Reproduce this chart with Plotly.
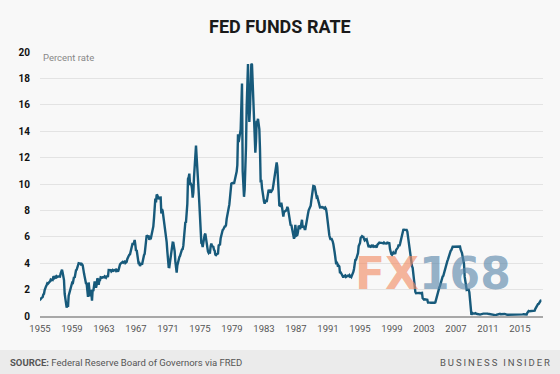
import plotly.graph_objects as go

# Effective federal funds rate, monthly, starting January 1955 (percent)
start_year = 1955
rates_1950s = [
    1.39, 1.29, 1.35, 1.43, 1.43, 1.64, 1.68, 1.96, 2.18, 2.24, 2.35, 2.48,
    2.45, 2.50, 2.50, 2.62, 2.75, 2.71, 2.75, 2.73, 2.95, 2.96, 2.88, 2.94,
    2.84, 3.00, 2.96, 3.00, 3.00, 3.00, 2.99, 3.24, 3.47, 3.50, 3.28, 2.98,
    2.72, 1.67, 1.20, 1.26, 0.63, 0.93, 0.68, 1.53, 1.76, 1.80, 2.27, 2.42,
    2.48, 2.43, 2.80, 2.96, 2.90, 3.39, 3.47, 3.50, 3.76, 3.98, 4.00, 3.99,
]
rates_1960s = [
    3.99, 3.97, 3.84, 3.92, 3.85, 3.32, 3.23, 2.98, 2.60, 2.47, 2.44, 1.98,
    1.45, 2.54, 2.02, 1.49, 1.98, 1.73, 1.17, 2.00, 1.88, 2.26, 2.62, 2.33,
    2.15, 2.37, 2.85, 2.78, 2.36, 2.68, 2.71, 2.93, 2.90, 2.90, 2.94, 2.93,
    2.92, 3.00, 2.98, 2.90, 3.00, 2.99, 3.02, 3.49, 3.48, 3.50, 3.48, 3.38,
    3.48, 3.48, 3.43, 3.47, 3.50, 3.50, 3.42, 3.50, 3.45, 3.36, 3.52, 3.85,
    3.90, 3.98, 4.04, 4.09, 4.10, 4.04, 4.09, 4.12, 4.01, 4.08, 4.10, 4.32,
    4.42, 4.60, 4.65, 4.67, 4.90, 5.17, 5.30, 5.53, 5.40, 5.53, 5.76, 5.40,
    4.94, 5.00, 4.53, 4.05, 3.94, 3.98, 3.79, 3.90, 3.99, 3.88, 4.13, 4.51,
    4.61, 4.71, 5.05, 5.76, 6.11, 6.07, 6.02, 6.03, 5.78, 5.91, 5.82, 6.02,
    6.30, 6.64, 6.79, 7.41, 8.67, 8.90, 8.61, 9.19, 9.15, 9.00, 8.85, 8.97,
]
rates_1970s = [
    8.98, 8.98, 7.76, 8.10, 7.95, 7.61, 7.21, 6.61, 6.29, 6.20, 5.60, 4.90,
    4.14, 3.72, 3.71, 4.16, 4.63, 4.91, 5.31, 5.56, 5.55, 5.20, 4.91, 4.14,
    3.50, 3.29, 3.83, 4.17, 4.27, 4.46, 4.55, 4.80, 4.87, 5.04, 5.06, 5.33,
    5.94, 6.58, 7.09, 7.12, 7.84, 8.49, 10.40, 10.50, 10.78, 10.01, 10.03, 9.95,
    9.65, 8.97, 9.35, 10.51, 11.31, 11.93, 12.92, 12.01, 11.34, 10.06, 9.45, 8.53,
    7.13, 6.24, 5.54, 5.49, 5.22, 5.55, 6.10, 6.14, 6.24, 5.82, 5.22, 5.20,
    4.87, 4.77, 4.84, 4.82, 5.29, 5.48, 5.31, 5.29, 5.25, 5.02, 4.95, 4.65,
    4.61, 4.68, 4.69, 4.73, 5.35, 5.39, 5.42, 5.90, 6.14, 6.47, 6.51, 6.56,
    6.70, 6.78, 6.79, 6.89, 7.36, 7.60, 7.81, 8.04, 8.45, 8.96, 9.76, 10.03,
    10.07, 10.06, 10.09, 10.01, 10.24, 10.29, 10.47, 10.94, 11.43, 13.77, 13.18, 13.78,
]
rates_1980s = [
    13.82, 14.13, 17.19, 17.61, 10.98, 9.47, 9.03, 9.61, 10.87, 12.81, 15.85, 18.90,
    19.08, 15.93, 14.70, 15.72, 18.52, 19.10, 19.04, 17.82, 15.87, 15.08, 13.31, 12.37,
    13.22, 14.78, 14.68, 14.94, 14.45, 14.15, 12.59, 10.12, 10.31, 9.71, 9.20, 8.95,
    8.68, 8.51, 8.77, 8.80, 8.63, 8.98, 9.37, 9.56, 9.45, 9.48, 9.34, 9.47,
    9.56, 9.59, 9.91, 10.29, 10.32, 11.06, 11.23, 11.64, 11.30, 9.99, 9.43, 8.38,
    8.35, 8.50, 8.58, 8.27, 7.97, 7.53, 7.88, 7.90, 7.92, 7.99, 8.05, 8.27,
    8.14, 7.86, 7.48, 6.99, 6.85, 6.92, 6.56, 6.17, 5.89, 5.85, 6.04, 6.91,
    6.43, 6.10, 6.13, 6.37, 6.85, 6.73, 6.58, 6.73, 7.22, 7.29, 6.69, 6.77,
    6.83, 6.58, 6.58, 6.87, 7.09, 7.51, 7.75, 8.01, 8.19, 8.30, 8.35, 8.76,
    9.12, 9.36, 9.85, 9.84, 9.81, 9.53, 9.24, 8.99, 9.02, 8.84, 8.55, 8.45,
]
rates_1990s = [
    8.23, 8.24, 8.28, 8.26, 8.18, 8.29, 8.15, 8.13, 8.20, 8.11, 7.81, 7.31,
    6.91, 6.25, 6.12, 5.91, 5.78, 5.90, 5.82, 5.66, 5.45, 5.21, 4.81, 4.43,
    4.03, 4.06, 3.98, 3.73, 3.82, 3.76, 3.25, 3.30, 3.22, 3.10, 3.09, 2.92,
    3.02, 3.03, 3.07, 2.96, 3.00, 3.04, 3.06, 3.03, 3.09, 2.99, 3.02, 2.96,
    3.05, 3.25, 3.34, 3.56, 4.01, 4.25, 4.26, 4.47, 4.73, 4.76, 5.29, 5.45,
    5.53, 5.92, 5.98, 6.05, 6.01, 6.00, 5.85, 5.74, 5.80, 5.76, 5.80, 5.60,
    5.56, 5.22, 5.31, 5.22, 5.24, 5.27, 5.40, 5.22, 5.30, 5.24, 5.31, 5.29,
    5.25, 5.19, 5.39, 5.51, 5.50, 5.56, 5.52, 5.54, 5.54, 5.50, 5.52, 5.50,
    5.56, 5.51, 5.49, 5.45, 5.49, 5.56, 5.54, 5.55, 5.51, 5.07, 4.83, 4.68,
    4.63, 4.76, 4.81, 4.74, 4.74, 4.76, 4.99, 5.07, 5.22, 5.20, 5.42, 5.30,
]
rates_2000s = [
    5.45, 5.73, 5.85, 6.02, 6.27, 6.53, 6.54, 6.50, 6.52, 6.51, 6.51, 6.40,
    5.98, 5.49, 5.31, 4.80, 4.21, 3.97, 3.77, 3.65, 3.07, 2.49, 2.09, 1.82,
    1.73, 1.74, 1.73, 1.75, 1.75, 1.75, 1.73, 1.74, 1.75, 1.75, 1.34, 1.24,
    1.24, 1.26, 1.25, 1.26, 1.26, 1.22, 1.01, 1.03, 1.01, 1.01, 1.00, 0.98,
    1.00, 1.01, 1.00, 1.00, 1.00, 1.03, 1.26, 1.43, 1.61, 1.76, 1.93, 2.16,
    2.28, 2.50, 2.63, 2.79, 3.00, 3.04, 3.26, 3.50, 3.62, 3.78, 4.00, 4.16,
    4.29, 4.49, 4.59, 4.79, 4.94, 4.99, 5.24, 5.25, 5.25, 5.25, 5.25, 5.24,
    5.25, 5.26, 5.26, 5.25, 5.25, 5.25, 5.26, 5.02, 4.94, 4.76, 4.49, 4.24,
    3.94, 2.98, 2.61, 2.28, 1.98, 2.00, 2.01, 2.00, 1.81, 0.97, 0.39, 0.16,
    0.15, 0.22, 0.18, 0.15, 0.18, 0.21, 0.16, 0.16, 0.15, 0.12, 0.12, 0.12,
]
rates_2010s = [
    0.11, 0.13, 0.16, 0.20, 0.20, 0.18, 0.18, 0.19, 0.19, 0.19, 0.19, 0.18,
    0.17, 0.16, 0.14, 0.10, 0.09, 0.09, 0.07, 0.10, 0.08, 0.07, 0.08, 0.07,
    0.08, 0.10, 0.13, 0.14, 0.16, 0.16, 0.16, 0.13, 0.14, 0.16, 0.16, 0.16,
    0.14, 0.15, 0.14, 0.15, 0.11, 0.09, 0.09, 0.08, 0.08, 0.09, 0.08, 0.09,
    0.07, 0.07, 0.08, 0.09, 0.09, 0.10, 0.09, 0.09, 0.09, 0.09, 0.09, 0.12,
    0.11, 0.11, 0.11, 0.12, 0.12, 0.13, 0.13, 0.14, 0.14, 0.12, 0.12, 0.24,
    0.34, 0.38, 0.36, 0.37, 0.37, 0.38, 0.39, 0.40, 0.40, 0.40, 0.41, 0.54,
    0.65, 0.66, 0.79, 0.90, 0.91, 1.04, 1.15, 1.16, 1.15,
]

year_ticks = [1955, 1959, 1963, 1967, 1971, 1975, 1979, 1983, 1987, 1991,
              1995, 1999, 2003, 2007, 2011, 2015]
y_ticks = [0, 2, 4, 6, 8, 10, 12, 14, 16, 18, 20]

rates = rates_1950s + rates_1960s + rates_1970s + rates_1980s + rates_1990s + rates_2000s + rates_2010s
x_years = [start_year + i / 12 for i in range(len(rates))]

BG = "#f8f8f8"
LINE = "#175a7b"

fig = go.Figure()
fig.add_trace(go.Scatter(
    x=x_years, y=rates, mode="lines",
    line=dict(color=LINE, width=2.4),
    cliponaxis=False, hoverinfo="skip", showlegend=False,
))

L, R, T, B = 40, 17, 52, 58
fig.update_layout(
    width=560, height=374,
    margin=dict(l=L, r=R, t=T, b=B),
    paper_bgcolor=BG, plot_bgcolor=BG,
    font=dict(family="Roboto", color="#555"),
    xaxis=dict(
        range=[1955, 2017.875],
        tickvals=year_ticks, ticktext=[str(v) for v in year_ticks],
        showgrid=False, zeroline=False,
        showline=True, linecolor="#a8a8a8", linewidth=1.5,
        ticks="", tickfont=dict(family="Roboto", size=9.5, color="#555"),
        ticklabelstandoff=3,
    ),
    yaxis=dict(
        range=[0, 20],
        tickvals=y_ticks,
        showgrid=True, gridcolor="#e3e3e3", gridwidth=1,
        zeroline=False, showline=False, ticks="",
        tickfont=dict(family="Roboto", size=10, color="#111", weight="bold"),
        ticklabelstandoff=9,
    ),
)

H = 374 - T - B
W = 560 - L - R

def px(x):
    return (x - L) / W

def py(y):
    return (374 - B - y) / H

# footer band
fig.add_shape(type="rect", xref="paper", yref="paper",
              x0=px(0), x1=px(560), y0=py(350), y1=py(374),
              fillcolor="#ebebeb", line=dict(width=0), layer="below")

anns = [
    dict(text="<b>FED FUNDS RATE</b>", x=px(280), y=py(26), xanchor="center", yanchor="middle",
         font=dict(family="Roboto", size=18, color="#1a1a1a")),
    dict(text="Percent rate", x=px(41), y=py(57.5), xanchor="left", yanchor="middle",
         font=dict(family="Roboto", size=9.5, color="#888")),
    dict(text="<b>SOURCE:</b> Federal Reserve Board of Governors via FRED", x=px(8), y=py(362.5),
         xanchor="left", yanchor="middle", font=dict(family="Roboto", size=9.5, color="#555")),
    dict(text="\u2009".join("BUSINESS") + "\u2009\u2009\u2009" + "\u2009".join("INSIDER"),
         x=px(552), y=py(362.5), xanchor="right", yanchor="middle",
         font=dict(family="Roboto", size=9.5, color="#555")),
    dict(text="<span style='color:rgba(242,140,100,0.65)'>FX</span><span style='color:rgba(90,135,170,0.65)'>168</span>",
         x=px(433), y=py(273), xanchor="center", yanchor="middle",
         font=dict(family="DejaVu Sans", size=44, weight="bold")),
]
for a in anns:
    fig.add_annotation(xref="paper", yref="paper", showarrow=False, **a)

fig.write_html(
    "out.html",
    config={"displayModeBar": False, "staticPlot": True},
    post_script="document.body.style.margin='0px';document.body.style.padding='0px';"
                "document.body.style.background='" + BG + "';",
)
